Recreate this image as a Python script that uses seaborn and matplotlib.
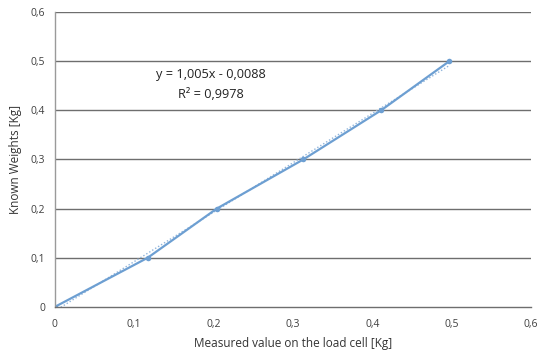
import matplotlib
matplotlib.use("Agg")
import matplotlib.pyplot as plt
import seaborn as sns
import pandas as pd
from matplotlib.ticker import FuncFormatter

measured = [0.0, 0.117, 0.204, 0.313, 0.411, 0.497]
known = [0.0, 0.1, 0.2, 0.3, 0.4, 0.5]
ticks = [0.0, 0.1, 0.2, 0.3, 0.4, 0.5, 0.6]
equation = "y = 1,005x - 0,0088"
r2_text = "R² = 0,9978"

df = pd.DataFrame({"measured": measured, "known": known})

sns.set_theme(style="white")
plt.rcParams["font.family"] = ["Open Sans", "DejaVu Sans"]

fig = plt.figure(figsize=(5.38, 3.56), dpi=100)
ax = fig.add_axes([0.102, 0.138, 0.885, 0.828])

for t in ticks[1:]:
    ax.axhline(t, color="#6e6e6e", lw=1.0, zorder=0)

color = "#6d9fd2"
sns.regplot(data=df, x="measured", y="known", ax=ax, scatter=False, ci=None,
            line_kws=dict(color="#8fb4dc", lw=1.0, ls=(0, (1, 1.5))))
sns.lineplot(data=df, x="measured", y="known", ax=ax, color=color, lw=1.6,
             marker="o", markersize=4, markeredgewidth=0)

ax.set_xlim(0, 0.6)
ax.set_ylim(0, 0.6)
ax.set_xticks(ticks)
ax.set_yticks(ticks)
fmt = FuncFormatter(lambda v, p: "0" if abs(v) < 1e-9 else f"{v:.1f}".replace(".", ","))
ax.xaxis.set_major_formatter(fmt)
ax.yaxis.set_major_formatter(fmt)
ax.tick_params(labelsize=7.5, colors="#404040", length=0)
ax.tick_params(axis="x", pad=9)
ax.tick_params(axis="y", pad=7)

for s in ["top", "right"]:
    ax.spines[s].set_visible(False)
ax.spines["left"].set_color("#9a9a9a")
ax.spines["bottom"].set_color("#6e6e6e")
ax.spines["left"].set_linewidth(1.0)
ax.spines["bottom"].set_linewidth(1.0)

ax.set_xlabel("Measured value on the load cell [Kg]", fontsize=8.5, color="#333333", labelpad=5)
ax.set_ylabel("Known Weights [Kg]", fontsize=8.5, color="#333333", labelpad=6)

ax.text(0.196, 0.472, equation, ha="center", va="center", fontsize=9.2, color="#222222")
ax.text(0.196, 0.432, r2_text, ha="center", va="center", fontsize=9.2, color="#222222")

fig.savefig("out.png", dpi=100)
